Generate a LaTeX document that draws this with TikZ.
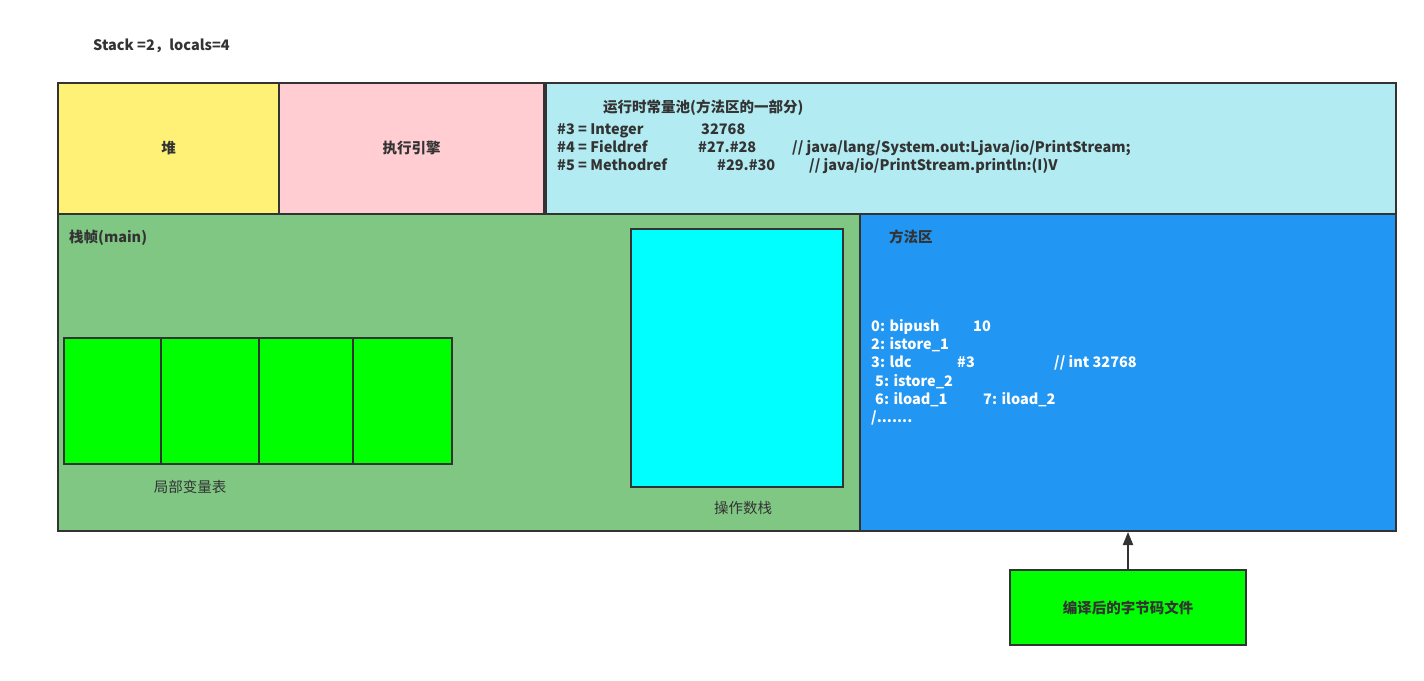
\documentclass[tikz,border=0pt]{standalone}
\usepackage{fontspec}
\setmainfont{Noto Sans CJK SC}
\usetikzlibrary{arrows.meta}
\definecolor{edge}{HTML}{333333}
\definecolor{heapc}{HTML}{FFF176}
\definecolor{enginec}{HTML}{FFCDD2}
\definecolor{poolc}{HTML}{B2EBF2}
\definecolor{framec}{HTML}{81C784}
\definecolor{methodc}{HTML}{2196F3}
\definecolor{brightgreen}{HTML}{00FF00}
\definecolor{aqua}{HTML}{00FFFF}
\definecolor{txt}{HTML}{333333}
\tikzset{
  box/.style={draw=edge, line width=2pt, inner sep=0pt, anchor=north west, font=\fontsize{14.5}{17}\selectfont\bfseries, text=txt},
  lbl/.style={inner sep=0pt, anchor=base west, font=\fontsize{14.5}{17}\selectfont\bfseries, text=txt},
  wlbl/.style={lbl, text=white},
  plain/.style={inner sep=0pt, anchor=base, font=\fontsize{14.5}{17}\selectfont, text=txt},
}
\begin{document}
\begin{tikzpicture}[x=1pt,y=-1pt]
\useasboundingbox[fill=white] (0,0) rectangle (1424,680);
\node[lbl] (title) at (93,50) {Stack =2，locals=4};
% top row
\node[box, fill=heapc, minimum width=221pt, minimum height=131pt] (heap) at (57,82) {堆};
\node[box, fill=enginec, minimum width=265pt, minimum height=131pt] (engine) at (278,82) {执行引擎};
\node[box, fill=poolc, minimum width=850pt, minimum height=131pt] (pool) at (545,82) {};
\node[lbl] (pooltitle) at (603,112) {运行时常量池(方法区的一部分)};
\node[lbl] (p1a) at (557,134) {\#3 = Integer};
\node[lbl] (p1b) at (701,134) {32768};
\node[lbl] (p2a) at (557,152) {\#4 = Fieldref};
\node[lbl] (p2b) at (698,152) {\#27.\#28};
\node[lbl] (p2c) at (792,152) {// java/lang/System.out:Ljava/io/PrintStream;};
\node[lbl] (p3a) at (557,170) {\#5 = Methodref};
\node[lbl] (p3b) at (717,170) {\#29.\#30};
\node[lbl] (p3c) at (809,170) {// java/io/PrintStream.println:(I)V};
% stack frame
\node[box, fill=framec, minimum width=802pt, minimum height=317pt] (frame) at (57,213) {};
\node[lbl] (frametitle) at (69,242) {栈帧(main)};
\node[box, fill=brightgreen, minimum width=97pt, minimum height=126pt] (l0) at (63,337) {};
\node[box, fill=brightgreen, minimum width=98pt, minimum height=126pt] (l1) at (160,337) {};
\node[box, fill=brightgreen, minimum width=94pt, minimum height=126pt] (l2) at (258,337) {};
\node[box, fill=brightgreen, minimum width=99pt, minimum height=126pt] (l3) at (352,337) {};
\node[plain] (lvt) at (190,492) {局部变量表};
\node[box, fill=aqua, minimum width=212pt, minimum height=258pt] (ops) at (630,228) {};
\node[plain] (opslbl) at (743,513) {操作数栈};
% method area
\node[box, fill=methodc, minimum width=536pt, minimum height=317pt] (ma) at (859,213) {};
\node[lbl] (matitle) at (889,242) {方法区};
\node[wlbl] (b1a) at (871,331) {0: bipush};
\node[wlbl] (b1b) at (973,331) {10};
\node[wlbl] (b2) at (871,349) {2: istore\_1};
\node[wlbl] (b3a) at (871,367) {3: ldc};
\node[wlbl] (b3b) at (957,367) {\#3};
\node[wlbl] (b3c) at (1054,367) {// int 32768};
\node[wlbl] (b4) at (875,386) {5: istore\_2};
\node[wlbl] (b5a) at (875,404) {6: iload\_1};
\node[wlbl] (b5b) at (983,404) {7: iload\_2};
\node[wlbl] (b6) at (871,422) {/.......};
% bytecode file
\node[box, fill=brightgreen, minimum width=236pt, minimum height=75pt] (bc) at (1009,569) {编译后的字节码文件};
\draw[edge, line width=2pt, -{Triangle[length=13pt,width=10pt]}] (bc.north) -- (ma.south);
\end{tikzpicture}
\end{document}
